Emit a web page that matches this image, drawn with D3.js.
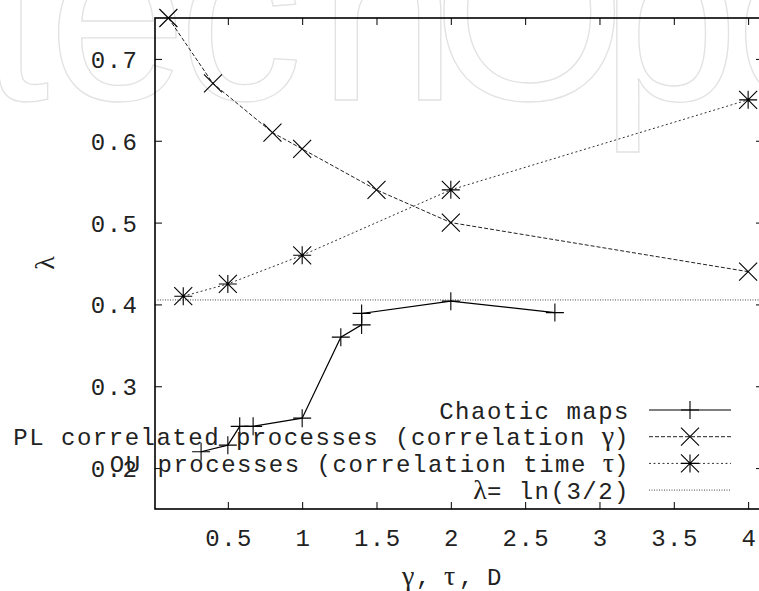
<!DOCTYPE html>
<html>
<head>
<meta charset="utf-8">
<script src="https://cdn.jsdelivr.net/npm/d3@7"></script>
<style>
  html, body { margin: 0; padding: 0; background: #fff; }
  svg { display: block; }
</style>
</head>
<body>
<div id="chart"></div>
<script>
// ---------------- data ----------------
const chaoticX = [0.32, 0.50, 0.58, 0.67, 1.00, 1.26, 1.40, 1.40, 2.00, 2.70];
const chaoticY = [0.220, 0.228, 0.251, 0.251, 0.261, 0.360, 0.375, 0.389, 0.404, 0.390];

const plX = [0.1, 0.4, 0.8, 1.0, 1.5, 2.0, 4.0];
const plY = [0.750, 0.670, 0.610, 0.590, 0.540, 0.500, 0.440];

const ouX = [0.2, 0.5, 1.0, 2.0, 4.0];
const ouY = [0.410, 0.425, 0.460, 0.540, 0.650];

const lambdaRef = Math.log(3 / 2);

const xTicks = [0.5, 1, 1.5, 2, 2.5, 3, 3.5, 4];
const yTicks = [0.2, 0.3, 0.4, 0.5, 0.6, 0.7];

const legendLabels = [
  "Chaotic maps",
  "PL correlated processes (correlation \u03b3)",
  "OU processes (correlation time \u03c4)",
  "\u03bb= ln(3/2)"
];
const watermarkLetters = ["t", "e", "c", "h", "O", "p", "e"];

// ---------------- layout ----------------
const W = 759, H = 591;
const M = { left: 155, top: 18, bottom: 509, right: 763 };
const mono = "'Liberation Mono', 'Courier New', Courier, monospace";
const serif = "'Liberation Serif', 'DejaVu Serif', serif";
const textCol = "#222";

const svg = d3.select("#chart").append("svg")
  .attr("width", W).attr("height", H);

// watermark (behind everything)
const wmX = [-20, 48, 178, 318, 432, 600, 735];
svg.append("g").selectAll("text").data(watermarkLetters).join("text")
  .attr("x", (d, i) => wmX[i]).attr("y", 100)
  .attr("font-family", "'Liberation Sans', Arial, sans-serif")
  .attr("font-size", 250)
  .attr("fill", "none").attr("stroke", "#e2e2e2").attr("stroke-width", 1.3)
  .text(d => d);

const x = d3.scaleLinear().domain([0.01, 4.1]).range([M.left, M.right]);
const y = d3.scaleLinear().domain([0.15, 0.75]).range([M.bottom, M.top]);

// axes (ticks inward)
const tick = 7;
const gB = svg.append("g").attr("transform", `translate(0,${M.bottom})`)
  .call(d3.axisBottom(x).tickValues(xTicks).tickSizeInner(-tick).tickSizeOuter(0).tickFormat(d3.format("")));
const gT = svg.append("g").attr("transform", `translate(0,${M.top})`)
  .call(d3.axisTop(x).tickValues(xTicks).tickSizeInner(-tick).tickSizeOuter(0).tickFormat(""));
const gL = svg.append("g").attr("transform", `translate(${M.left},0)`)
  .call(d3.axisLeft(y).tickValues(yTicks).tickSizeInner(-tick).tickSizeOuter(0).tickFormat(d3.format(".1f")));
const gR = svg.append("g").attr("transform", `translate(${M.right},0)`)
  .call(d3.axisRight(y).tickValues(yTicks).tickSizeInner(-tick).tickSizeOuter(0).tickFormat(""));

[gB, gT, gL, gR].forEach(g => {
  g.select(".domain").remove();
  g.selectAll(".tick line").attr("stroke", "#000").attr("stroke-width", 1);
});
gB.selectAll(".tick text")
  .attr("y", 37).attr("dy", 0).attr("dx", "0.75px")
  .attr("font-family", mono).attr("font-size", 24).attr("letter-spacing", "1.5px")
  .attr("fill", textCol);
gL.selectAll(".tick text")
  .attr("x", -16.5).attr("dy", 8.5)
  .attr("font-family", mono).attr("font-size", 24).attr("letter-spacing", "1.5px")
  .attr("fill", textCol);

// border
svg.append("rect")
  .attr("x", M.left).attr("y", M.top)
  .attr("width", M.right - M.left).attr("height", M.bottom - M.top)
  .attr("fill", "none").attr("stroke", "#000").attr("stroke-width", 1.6);

// axis labels
svg.append("text")
  .attr("transform", "translate(54,263) rotate(-90)")
  .attr("text-anchor", "middle")
  .attr("font-family", serif).attr("font-size", 28).attr("fill", textCol)
  .text("\u03bb");

const xl = svg.append("text").attr("y", 585)
  .attr("font-family", mono).attr("font-size", 24).attr("fill", textCol);
xl.append("tspan").attr("x", 402).attr("font-family", serif).attr("font-size", 28).text("\u03b3");
xl.append("tspan").attr("x", 416).text(",");
xl.append("tspan").attr("x", 444).attr("font-family", serif).attr("font-size", 28).text("\u03c4");
xl.append("tspan").attr("x", 459).text(",");
xl.append("tspan").attr("x", 487).text("D");

// reference line
svg.append("line")
  .attr("x1", M.left).attr("x2", M.right)
  .attr("y1", y(lambdaRef)).attr("y2", y(lambdaRef))
  .attr("stroke", "#444").attr("stroke-width", 1).attr("stroke-dasharray", "1,1.5");

// series
const series = [
  { xs: chaoticX, ys: chaoticY, dash: null, col: "#000", w: 1.2, marker: "plus" },
  { xs: plX, ys: plY, dash: "4,2", col: "#222", w: 1, marker: "cross" },
  { xs: ouX, ys: ouY, dash: "2,2.5", col: "#333", w: 1, marker: "star" }
];
const line = d3.line().x(d => x(d[0])).y(d => y(d[1]));
const ms = 9;
function markerPath(type, cx, cy) {
  const p = d3.path();
  if (type === "plus" || type === "star") {
    p.moveTo(cx - ms, cy); p.lineTo(cx + ms, cy);
    p.moveTo(cx, cy - ms); p.lineTo(cx, cy + ms);
  }
  if (type === "cross" || type === "star") {
    p.moveTo(cx - ms, cy - ms); p.lineTo(cx + ms, cy + ms);
    p.moveTo(cx - ms, cy + ms); p.lineTo(cx + ms, cy - ms);
  }
  return p.toString();
}
series.forEach(s => {
  const pts = s.xs.map((v, i) => [v, s.ys[i]]);
  svg.append("path").datum(pts).attr("d", line)
    .attr("fill", "none").attr("stroke", s.col).attr("stroke-width", s.w)
    .attr("stroke-dasharray", s.dash);
  svg.append("g").selectAll("path").data(pts).join("path")
    .attr("d", d => markerPath(s.marker, x(d[0]), y(d[1])))
    .attr("fill", "none").attr("stroke", "#000").attr("stroke-width", 1.1);
});

// legend
const legY0 = 410, legDY = 26.7, textEnd = 630, sx1 = 649, sx2 = 731, smid = 690;
const legStyles = [
  { dash: null, col: "#000", w: 1.2, marker: "plus" },
  { dash: "4,2", col: "#222", w: 1, marker: "cross" },
  { dash: "2,2.5", col: "#333", w: 1, marker: "star" },
  { dash: "1,1.5", col: "#444", w: 1, marker: null }
];
legendLabels.forEach((lab, i) => {
  const ly = legY0 + i * legDY;
  const t = svg.append("text")
    .attr("x", textEnd).attr("y", ly + 8.5).attr("text-anchor", "end")
    .attr("font-family", mono).attr("font-size", 24).attr("letter-spacing", "1.5px")
    .attr("fill", textCol);
  const parts = lab.split(/([\u03b3\u03c4\u03bb])/);
  parts.forEach(p => {
    if (!p) return;
    const sp = t.append("tspan").text(p);
    if (/[\u03b3\u03c4\u03bb]/.test(p)) sp.attr("font-family", serif).attr("font-size", 28).attr("letter-spacing", "0px");
  });
  const st = legStyles[i];
  svg.append("line").attr("x1", sx1).attr("x2", sx2).attr("y1", ly).attr("y2", ly)
    .attr("stroke", st.col).attr("stroke-width", st.w).attr("stroke-dasharray", st.dash);
  if (st.marker) {
    svg.append("path").attr("d", markerPath(st.marker, smid, ly))
      .attr("fill", "none").attr("stroke", "#000").attr("stroke-width", 1.1);
  }
});
</script>
</body>
</html>
